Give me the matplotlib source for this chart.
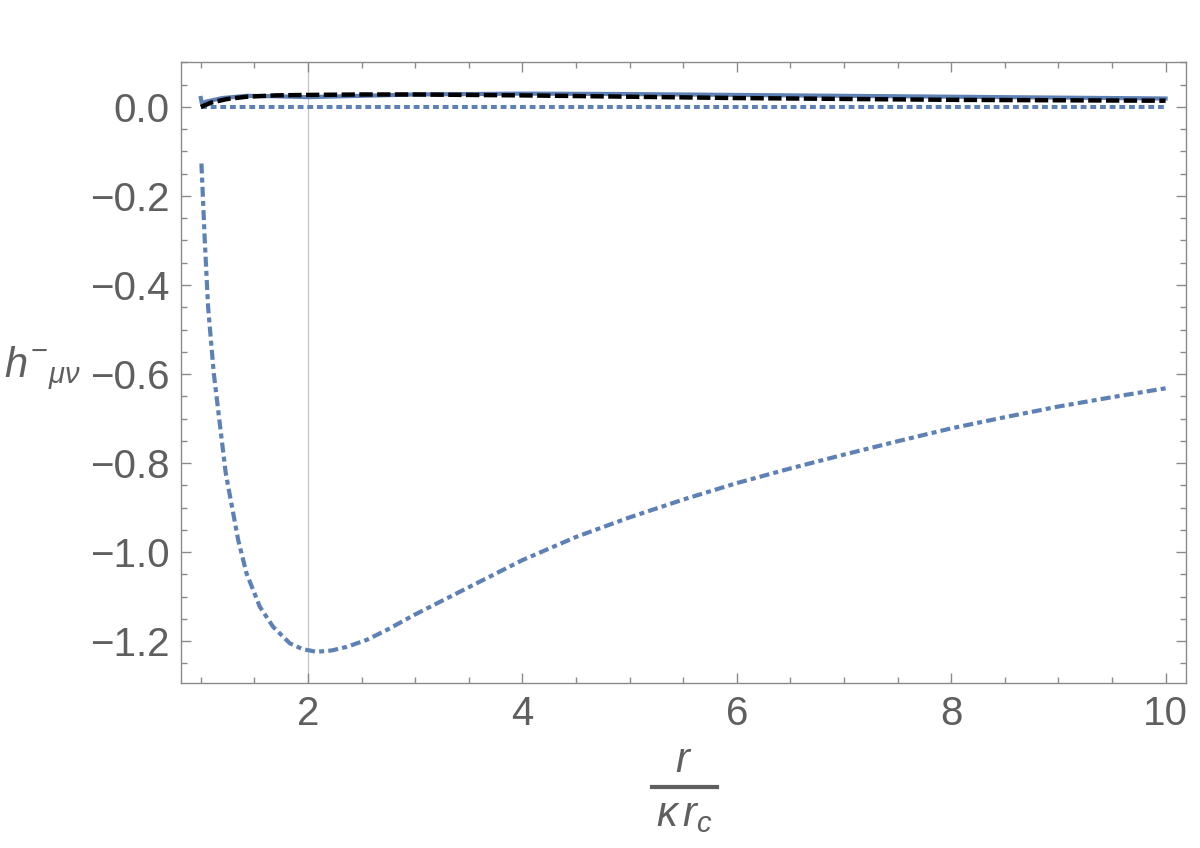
import matplotlib
matplotlib.use("Agg")
import matplotlib.pyplot as plt
from matplotlib.ticker import MultipleLocator, FixedLocator
from matplotlib.lines import Line2D

plt.rcParams['font.family'] = ['Liberation Sans', 'DejaVu Sans']
plt.rcParams['mathtext.fontset'] = 'custom'
plt.rcParams['mathtext.it'] = 'Liberation Sans:italic'
plt.rcParams['mathtext.rm'] = 'Liberation Sans'
plt.rcParams['mathtext.sf'] = 'Liberation Sans'

# --- data ---
x_dashdot = [1.006, 1.037, 1.068, 1.121, 1.177, 1.233, 1.349, 1.427, 1.551, 1.675, 1.831,
             1.95, 2.08, 2.22, 2.36, 2.55, 2.734, 3.0, 3.45, 4.0, 4.5, 5.0, 5.5, 6.0, 6.5,
             7.0, 7.5, 8.0, 8.5, 9.0, 9.5, 10.0]
y_dashdot = [-0.127, -0.299, -0.449, -0.598, -0.711, -0.823, -0.973, -1.048, -1.123, -1.168,
             -1.205, -1.218, -1.224, -1.221, -1.213, -1.197, -1.175, -1.140, -1.085, -1.018,
             -0.966, -0.922, -0.882, -0.845, -0.812, -0.781, -0.751, -0.722, -0.697, -0.673,
             -0.652, -0.632]

x_solid = [1.0, 1.01, 1.05, 1.2, 1.43, 1.7, 2.0, 2.5, 3.0, 4.0, 5.0, 6.0, 7.0, 8.0, 9.0, 10.0]
y_solid = [0.020, 0.008, 0.012, 0.020, 0.025, 0.024, 0.022, 0.025, 0.028, 0.030, 0.029,
           0.027, 0.025, 0.023, 0.021, 0.019]

x_dashed = [1.0, 1.1, 1.25, 1.43, 1.7, 2.0, 2.5, 3.0, 4.0, 5.0, 6.0, 7.0, 8.0, 9.0, 10.0]
y_dashed = [0.0, 0.010, 0.018, 0.023, 0.026, 0.027, 0.028, 0.028, 0.026, 0.023, 0.020,
            0.018, 0.016, 0.015, 0.014]

x_dotted = [1.0, 10.0]
y_dotted = [0.0, 0.0]

x_marker = 2.0

x_ticks = [2, 4, 6, 8, 10]
x_ticklabels = ["2", "4", "6", "8", "10"]
y_ticks = [0.0, -0.2, -0.4, -0.6, -0.8, -1.0, -1.2]
y_ticklabels = ["0.0", "\u22120.2", "\u22120.4", "\u22120.6", "\u22120.8", "\u22121.0", "\u22121.2"]

blue = "#5E81B5"
gray = "#8a8a8a"
txt = "#5f5f5f"

fig = plt.figure(figsize=(12, 8.48), dpi=100)
ax = fig.add_axes([0.1508, 0.1946, 0.9883 - 0.1508, 0.9269 - 0.1946])

ax.axvline(x_marker, color="#c4c4c4", lw=0.9, zorder=1)

ax.plot(x_dotted, y_dotted, color=blue, lw=2.9, linestyle=(0, (1.45, 0.95)), zorder=2)
ax.plot(x_dashdot, y_dashdot, color=blue, lw=3.0, linestyle=(0, (2.4, 1.0, 1.2, 1.0)), zorder=3)
ax.plot(x_solid, y_solid, color=blue, lw=3.0, zorder=3)
ax.plot(x_dashed, y_dashed, color="black", lw=3.2, linestyle=(0, (3.0, 1.0)), zorder=4)

ax.set_xlim(0.815, 10.19)
ax.set_ylim(-1.294, 0.101)

ax.xaxis.set_major_locator(FixedLocator(x_ticks))
ax.set_xticklabels(x_ticklabels)
ax.xaxis.set_minor_locator(MultipleLocator(0.5))
ax.yaxis.set_major_locator(FixedLocator(y_ticks))
ax.set_yticklabels(y_ticklabels)
ax.yaxis.set_minor_locator(MultipleLocator(0.05))

for s in ax.spines.values():
    s.set_color(gray)
    s.set_linewidth(1.0)

ax.tick_params(which="both", direction="in", top=True, right=True, color=gray, width=1.0)
ax.tick_params(which="major", length=7)
ax.tick_params(which="minor", length=4)
ax.tick_params(axis="both", which="major", labelsize=29, labelcolor=txt)
ax.tick_params(axis="x", which="major", pad=9)
ax.tick_params(axis="y", which="major", pad=8)

fig.text(0.003, 0.565, r"$h^{-}{}_{\mu\nu}$", fontsize=30, color=txt, ha="left", va="center")

# x-axis label as a stacked fraction r / (kappa r_c)
fig.text(684 / 1200, 1 - 772 / 848, r"$r$", fontsize=30, color=txt, ha="center", va="baseline")
fig.add_artist(Line2D([652 / 1200, 717 / 1200], [1 - 787 / 848, 1 - 787 / 848],
                      transform=fig.transFigure, color=txt, lw=3.0))
fig.text(684 / 1200, 1 - 826 / 848, r"$\kappa\,r_c$", fontsize=30, color=txt, ha="center", va="baseline")

fig.savefig("out.png", dpi=100)
